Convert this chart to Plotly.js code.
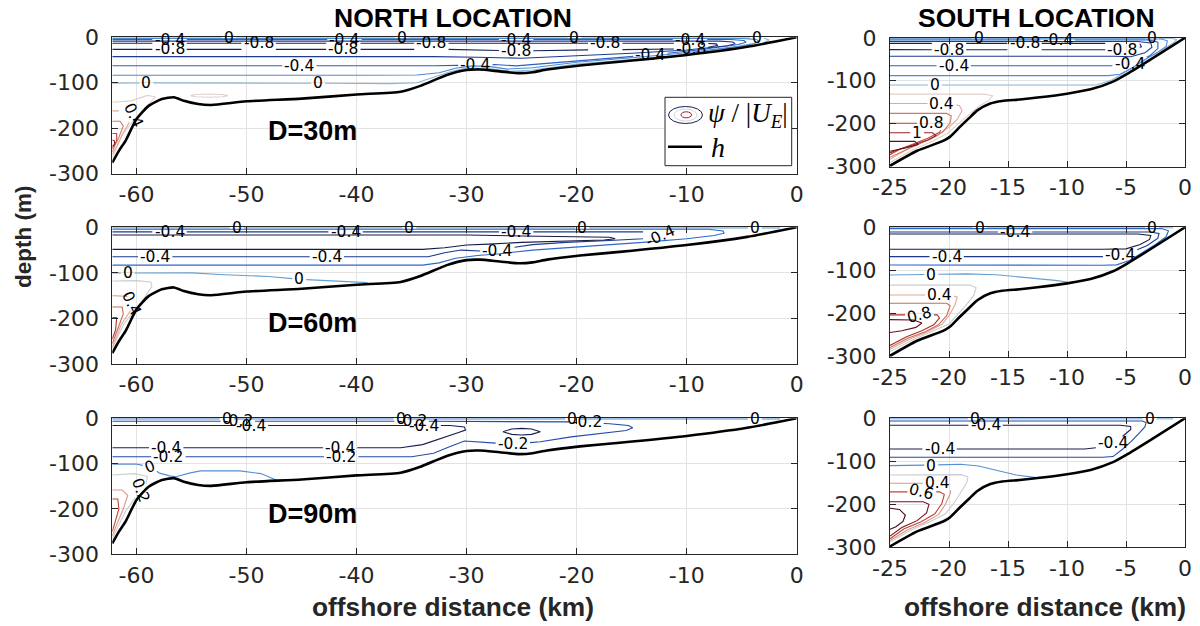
<!DOCTYPE html>
<html>
<head>
<meta charset="utf-8">
<script src="https://cdn.plot.ly/plotly-3.0.1.min.js"></script>
<style>
  html, body { margin: 0; padding: 0; background: #ffffff; }
  #chart { width: 1200px; height: 626px; }
</style>
</head>
<body>
<div id="chart"></div>
<script>
// ---------------- bathymetry h (offshore distance km, depth m) ----------------
const northX = [-62.2,-61.6,-61,-60,-58.9,-57.7,-56.6,-55.7,-54.4,-53.2,-50,-45,-40,-36,-34.2,-31.8,-30,-28.8,-27,-25.2,-24,-22.7,-19.7,-16.1,-10,-4.5,0];
const northH = [-276,-250,-228,-180,-151,-136,-132,-140,-147,-149,-141,-135,-126,-120,-107,-83,-72,-71,-75,-79,-77,-71,-62,-54,-39,-21,0];
const southX = [-25,-22.7,-20.5,-19.9,-19.1,-18.3,-17.6,-16.5,-15.5,-14,-12.5,-10,-8,-6.1,-4.9,-3,0];
const southH = [-298,-263,-240,-230,-208,-187,-169,-153,-147,-143.5,-139,-130,-120,-102,-84,-52,0];

// ---------------- streamfunction psi/|U_E| contour lines ----------------
// each entry: [level, x vertices (km), depth vertices (m)]
const n30Lines = [
  [0, [-62.2,-4.2,-2.9,-2.5,-2.9,-4,-6,-8,-10,-15,-20,-24,-26,-28,-30,-31.5,-33,-34.5,-37,-45,-55,-62.2],
      [-1.2,-1.2,-2.5,-6,-11,-17,-23,-30,-37.5,-49,-59,-72,-75,-69,-68,-76,-88,-100,-102,-101,-100,-101]],
  [-0.2, [-62.2,-5,-3.7,-3.4,-3.9,-5.3,-7.3,-10,-15,-20,-24,-26.3,-28,-29.5,-31,-32.5,-34.5,-40,-62.2],
         [-2.8,-2.8,-4.5,-9,-14,-20,-26,-34,-45,-55,-67,-70,-64,-63,-68,-78,-83,-83.5,-83.5]],
  [-0.4, [-62.2,-6,-4.8,-4.6,-5.3,-6.8,-9,-13.3,-18,-22,-25.5,-27.5,-29.2,-31,-33,-36,-62.2],
         [-5,-5,-7,-11,-16,-21,-28,-39,-48,-57,-63,-60,-61,-62,-62.5,-62.5,-62.5]],
  [-0.6, [-62.2,-7,-5.8,-5.6,-6.3,-7.8,-10,-15,-20,-25,-29,-31.5,-33,-62.2],
         [-8.5,-8.5,-10.5,-14,-18.5,-23,-28,-35,-40,-46,-44,-42.5,-42.5,-42.5]],
  [-0.8, [-62.2,-8.5,-7.3,-7.2,-7.8,-9,-10.5,-15,-20,-25,-29,-32,-62.2],
         [-13,-13,-14.5,-18,-21.5,-24,-25.5,-27,-28,-30,-28,-26.5,-26.5]],
  [0.2, [-62.2,-60.5,-59,-58.3,-58.8,-59.6,-60.5,-61.3,-61.9,-62.2],
        [-143,-140,-128,-131,-145,-165,-190,-214,-250,-265]],
  [0.2, [-55.1,-54.6,-53.4,-52.2,-51.7,-52.2,-53.4,-54.6,-55.1],
        [-128.5,-126,-125,-126,-128.5,-131,-132,-131,-128.5]],
  [0.4, [-62.2,-61,-60.4,-60.6,-61.2,-61.8,-62.2], [-162,-162,-168,-185,-210,-240,-258]],
  [0.6, [-62.2,-61.5,-61.2,-61.6,-62,-62.2], [-185,-185,-195,-220,-240,-252]],
  [0.8, [-62.2,-61.8,-61.8,-62.2], [-212,-212,-228,-245]],
  [1.0, [-62.2,-62.0,-62.0,-62.2], [-226,-228,-236,-240]]
];
const n60Lines = [
  [0, [-62.2,-1.5], [-1.2,-1.2]],
  [0, [-62.2,-57,-55,-52,-48,-45.2,-42,-39], [-100,-101,-100,-104,-108,-114,-118,-121.5]],
  [-0.2, [-62.2,-8,-6.7,-6.6,-7.5,-10,-14,-18,-21,-24,-27,-29,-31,-32.5,-34,-62.2],
         [-4.4,-4.4,-8,-13,-18,-25,-33,-40,-44,-50,-58,-62,-68,-78,-83,-83]],
  [-0.4, [-62.2,-13,-12,-12.3,-14,-17,-21,-24,-26,-27.5,-29,-30.5,-32,-33.5,-62.2],
         [-10,-10,-13,-19,-25,-29,-33,-38,-45,-53,-52,-50,-56,-64.7,-64.7]],
  [-0.6, [-62.2,-30,-25,-19,-17,-16.5,-17.5,-20,-25,-28,-30,-32,-34,-62.2],
         [-17,-17,-19,-21,-22,-25,-28,-29.5,-33,-37,-39,-45,-48.5,-48.5]],
  [0.2, [-62.2,-60,-58.7,-58.6,-59.3,-60.3,-61.2,-61.9,-62.2], [-118,-117,-120,-130,-155,-185,-214,-250,-266]],
  [0.4, [-62.2,-61,-60.3,-60.6,-61.4,-62,-62.2], [-150,-150,-156,-185,-214,-250,-262]],
  [0.6, [-62.2,-61.3,-61.2,-61.7,-62.2], [-175,-175,-190,-225,-255]],
  [0.8, [-62.2,-61.8,-61.9,-62.2], [-198,-198,-225,-245]]
];
const n90Lines = [
  [0, [-62.2,-1.5], [-1.2,-1.2]],
  [0, [-62.2,-60,-58.8,-57.9,-57,-56.4,-55.2,-54.2,-50.6,-48.7,-47.2],
      [-101,-101,-107,-121,-127,-129,-121,-116,-116,-122,-137]],
  [-0.2, [-62.2,-22,-19.4,-17,-15.3,-14.9,-15.5,-17.5,-20.5,-23.3,-25.8,-28.5,-30.2,-31.5,-33,-35,-62.2],
         [-6.5,-6.5,-9,-12,-16,-21,-27,-33,-41,-51.6,-57,-53,-50,-62,-77,-84.7,-84.7]],
  [-0.4, [-62.2,-31.5,-30.2,-30.1,-30.8,-32.3,-34,-36,-62.2], [-16,-16,-19,-26,-32,-45,-58,-65,-65]],
  [-0.4, [-26.7,-25.9,-25,-24.1,-23.3,-24.1,-25,-25.9,-26.7], [-29.5,-23.5,-22.3,-23.5,-29.5,-35.5,-36.7,-35.5,-29.5]],
  [0.2, [-62.2,-60.2,-59,-59.2,-60,-61,-61.8,-62.2], [-125,-122,-128,-150,-172,-205,-245,-266]],
  [0.4, [-62.2,-61.3,-60.8,-61.2,-61.9,-62.2], [-158,-158,-170,-200,-240,-260]],
  [0.6, [-62.2,-61.7,-61.6,-62,-62.2], [-178,-178,-200,-230,-250]]
];
const s30Lines = [
  [0, [-25,-1.2,-0.7,-1,-1.8,-3,-4.2,-5.2,-6.2,-7.5,-9,-25], [-1.2,-1.2,-4,-12,-26,-45,-66,-83,-98,-110,-110,-110]],
  [-0.2, [-25,-2,-1.5,-1.6,-2.4,-3.5,-4.5,-5.5,-6.5,-25], [-2.8,-2.8,-7,-20,-35,-52,-70,-85,-88,-88]],
  [-0.4, [-25,-3,-2.3,-2.3,-3,-4.2,-5.2,-7,-25], [-5,-5,-10,-25,-42,-58,-65,-65,-65]],
  [-0.6, [-25,-4,-2.9,-2.8,-3.4,-4.6,-6,-25], [-8.5,-8.5,-12,-22,-35,-44,-43,-43]],
  [-0.8, [-25,-5,-3.8,-3.7,-4.5,-6,-25], [-13,-13,-15,-21,-27,-28,-27.6]],
  [0.2, [-25,-17,-16.3,-16.6,-17.6,-18.6,-19.4,-20.1,-21.5,-23,-25], [-131,-131,-135,-145,-162,-185,-205,-222,-242,-260,-290]],
  [0.4, [-25,-19.7,-19.1,-18.9,-19.3,-20,-21,-22.4,-23.7,-25], [-153,-153,-158,-170,-190,-208,-228,-245,-262,-283]],
  [0.6, [-25,-20.2,-19.8,-19.9,-20.5,-21.5,-22.8,-24,-25], [-176,-176,-182,-198,-218,-235,-250,-265,-278]],
  [0.8, [-25,-20.8,-20.5,-20.8,-21.8,-23,-24.2,-25], [-199,-199,-205,-220,-234,-247,-260,-272]],
  [1.0, [-25,-21.4,-21.1,-21.8,-23,-24.3,-25], [-221,-221,-228,-238,-249,-260,-268]],
  [1.2, [-25,-22.9,-22.6,-23.6,-25], [-241,-241,-248,-256,-264]]
];
const s60Lines = [
  [0, [-25,-1], [-1.2,-1.2]],
  [0, [-25,-18.5,-16,-13,-11,-10], [-110.6,-108,-110,-117,-123,-127]],
  [-0.2, [-25,-2,-1.4,-1.6,-2.5,-3.6,-4.7,-5.8,-7,-25], [-3,-3,-8,-22,-40,-58,-77,-87,-88,-87.4]],
  [-0.4, [-25,-3,-2.2,-2.3,-3.2,-4.3,-5.2,-6.5,-25], [-11,-11,-14,-25,-42,-55,-63,-68,-68]],
  [-0.6, [-25,-4,-2.9,-3,-3.8,-5,-7,-25], [-15.5,-15.5,-19,-28,-40,-50,-51,-51]],
  [0.2, [-25,-18.2,-17.7,-17.9,-18.6,-19.3,-20,-21.5,-23,-25], [-134,-134,-140,-158,-182,-204,-224,-242,-260,-288]],
  [0.4, [-25,-19.8,-19.3,-19.5,-20,-20.6,-21.8,-23.3,-25], [-157,-157,-162,-180,-205,-225,-242,-259,-283]],
  [0.6, [-25,-20.2,-19.9,-20.2,-20.9,-22,-23.5,-25], [-176,-176,-182,-205,-226,-242,-257,-279]],
  [0.8, [-25,-21,-20.8,-21.3,-22.3,-23.6,-25], [-203,-203,-210,-226,-240,-254,-274]],
  [1.0, [-25,-23,-22.3,-22.8,-24,-25], [-214,-215,-222,-232,-240,-244]]
];
const s90Lines = [
  [0, [-25,-1], [-1.2,-1.2]],
  [0, [-25,-20,-19,-17.5,-16.2,-14.3,-12.6], [-110,-108,-107,-111,-119,-132,-138]],
  [-0.2, [-25,-3.6,-3.3,-3.4,-3.9,-4.6,-5.3,-6.1,-7,-25], [-6.3,-6.3,-10,-20,-35,-55,-72,-89,-90.7,-90.7]],
  [-0.4, [-25,-5.5,-4.6,-4.6,-5.2,-6,-7,-8.5,-25], [-16,-16,-19,-26,-40,-55,-67,-71.4,-71.4]],
  [0.2, [-25,-19,-18.4,-18.5,-19,-19.6,-20.3,-21.7,-23.2,-25], [-132,-131,-136,-150,-172,-198,-222,-242,-260,-288]],
  [0.4, [-25,-20.3,-19.8,-19.9,-20.3,-20.9,-22.1,-23.5,-25], [-151,-151,-156,-175,-200,-224,-243,-259,-284]],
  [0.6, [-25,-20.8,-20.4,-20.6,-21.2,-22.4,-23.8,-25], [-171,-171,-177,-198,-222,-241,-257,-280]],
  [0.8, [-25,-22.2,-21.7,-21.9,-22.7,-24,-25], [-194,-194,-200,-220,-238,-254,-274]],
  [1.0, [-25,-24.2,-23.7,-23.9,-24.5,-25], [-209,-212,-225,-240,-252,-258]]
];

// contour labels: [level, x (km), depth (m), rotation (deg)]
const n30Labels = [
  [-0.4,-57,-5], [-0.8,-57,-26.5], [0,-51.6,-1.2], [-0.8,-48.9,-13], [-0.4,-45.2,-62.5],
  [0,-59.1,-101], [0,-43.5,-101], [-0.4,-41.1,-5], [-0.8,-41.2,-26.5], [0,-35.9,-1.2],
  [-0.8,-33.2,-13], [-0.4,-29.2,-61], [-0.4,-25.5,-5], [-0.8,-25.5,-30], [0,-20.2,-1.2],
  [-0.8,-17.4,-13], [-0.4,-13.3,-40], [-0.4,-9.7,-5], [-0.8,-9.6,-25.5], [0,-3.6,-1.5],
  [0.4,-60.3,-172,65]
];
const n60Labels = [
  [-0.4,-57,-10], [0,-50.9,-1.2], [-0.4,-41,-10], [0,-35.2,-1.2], [-0.4,-25.5,-10],
  [0,-19.5,-1.2], [-0.4,-58.3,-64.7], [-0.4,-42.7,-64.7], [-0.4,-27.2,-53], [-0.4,-12.4,-18,-25],
  [0,-60.8,-100], [0,-45.2,-114], [0,-3.8,-1.2], [0.4,-60.5,-167,65]
];
const n90Labels = [
  [0,-51.8,-1.2], [-0.2,-50.8,-6.5], [-0.4,-49.6,-16], [0,-36,-1.2], [-0.2,-35,-6.5], [-0.4,-33.9,-16],
  [-0.4,-57.3,-65], [-0.2,-57.1,-84.7], [-0.4,-41.5,-65], [-0.2,-41.4,-84.7], [0,-58.8,-107,-20],
  [0.2,-59.6,-160,70], [-0.2,-25.8,-57], [-0.2,-19.1,-9], [0,-20.4,-1.2], [0,-3.8,-1.2]
];
const s30Labels = [
  [0,-17.5,-1.2], [-0.8,-13.6,-13], [-0.4,-10.8,-5], [-0.8,-20,-27.6], [-0.4,-19.6,-65],
  [0,-21.2,-110], [0.4,-20.6,-153], [0.8,-21.5,-199], [1,-22.7,-221], [-0.8,-5.3,-28],
  [-0.4,-4.7,-60], [0,-2.8,-1.2]
];
const s60Labels = [
  [0,-17.4,-1.2], [-0.4,-14.4,-11], [0,-2.8,-1.2], [-0.4,-20.2,-68], [-0.4,-5.5,-64],
  [0,-21.5,-110.6], [0.4,-20.8,-157], [0.8,-22.5,-203,-15]
];
const s90Labels = [
  [0,-17.8,-1.2], [-0.4,-16.9,-16], [0,-3,-1.2], [-0.4,-20.8,-71.4], [-0.4,-6.1,-58],
  [0,-21.5,-110], [0.4,-21,-151], [0.6,-22.3,-171,15]
];

// axis ticks
const northTicks = [-60,-50,-40,-30,-20,-10,0];
const southTicks = [-25,-20,-15,-10,-5,0];
const depthTicks = [-300,-200,-100,0];

// ---------------- drawing ----------------
const W = 1200, H = 626;
const TICK_FONT = 'DejaVu Sans';
const BOLD_FONT = 'Liberation Sans, Arial, sans-serif';
const LABEL_SIZE = 15.5;

// diverging colormap (dark navy -> blue -> pale -> red -> maroon)
const cmap = [
  [0.00,[20,20,40]],[0.10,[25,35,95]],[0.18,[30,60,150]],[0.27,[40,100,205]],
  [0.38,[95,155,210]],[0.47,[165,200,215]],[0.52,[225,210,205]],[0.60,[225,175,160]],
  [0.70,[210,120,95]],[0.80,[185,60,50]],[0.90,[140,20,35]],[1.00,[65,5,20]]
];
function levelColor(v, lo, hi) {
  let t = (v - lo) / (hi - lo);
  t = Math.max(0, Math.min(1, t));
  for (let i = 0; i < cmap.length - 1; i++) {
    const [t0, c0] = cmap[i], [t1, c1] = cmap[i + 1];
    if (t <= t1) {
      const f = (t - t0) / (t1 - t0);
      const c = c0.map((a, k) => Math.round(a + f * (c1[k] - a)));
      return `rgb(${c[0]},${c[1]},${c[2]})`;
    }
  }
  return 'rgb(65,5,20)';
}
const fmt = v => String(v);
function textWidth(s, fs) {
  let w = 0;
  for (const ch of s) w += ch === '-' ? 0.36 : (ch === '.' ? 0.32 : 0.64);
  return w * fs;
}
// Liang-Barsky: parameter interval of a segment inside a box
function clipT(x0, y0, x1, y1, b) {
  const dx = x1 - x0, dy = y1 - y0;
  const p = [-dx, dx, -dy, dy];
  const q = [x0 - b.x0, b.x1 - x0, y0 - b.y0, b.y1 - y0];
  let t0 = 0, t1 = 1;
  for (let k = 0; k < 4; k++) {
    if (p[k] === 0) { if (q[k] < 0) return null; }
    else {
      const r = q[k] / p[k];
      if (p[k] < 0) t0 = Math.max(t0, r); else t1 = Math.min(t1, r);
    }
  }
  return t0 < t1 ? [t0, t1] : null;
}
// break a polyline where its own labels sit
function breakAtLabels(xs, ys, boxes) {
  const ox = [], oy = [];
  let prevEnd = false;
  for (let i = 0; i < xs.length - 1; i++) {
    let pieces = [[0, 1]];
    for (const b of boxes) {
      const r = clipT(xs[i], ys[i], xs[i + 1], ys[i + 1], b);
      if (!r) continue;
      const next = [];
      for (const [a, c] of pieces) {
        if (a < Math.min(c, r[0])) next.push([a, Math.min(c, r[0])]);
        if (Math.max(a, r[1]) < c) next.push([Math.max(a, r[1]), c]);
      }
      pieces = next;
    }
    let endsAtOne = false;
    for (const [a, c] of pieces) {
      const pa = [xs[i] + a * (xs[i + 1] - xs[i]), ys[i] + a * (ys[i + 1] - ys[i])];
      const pc = [xs[i] + c * (xs[i + 1] - xs[i]), ys[i] + c * (ys[i + 1] - ys[i])];
      if (!(a === 0 && prevEnd)) {
        if (ox.length) { ox.push(null); oy.push(null); }
        ox.push(pa[0]); oy.push(pa[1]);
      }
      ox.push(pc[0]); oy.push(pc[1]);
      if (c === 1) endsAtOne = true;
    }
    prevEnd = endsAtOne;
  }
  return [ox, oy];
}

const px = v => v / W, py = v => 1 - v / H;
const panels = [
  { lines: n30Lines, labels: n30Labels, hx: northX, hd: northH, xr: [-62.2, 0], ticks: northTicks, xd: [112.3, 796.7], yd: [37.3, 173.5], lo: -1.0, hi: 1.3 },
  { lines: n60Lines, labels: n60Labels, hx: northX, hd: northH, xr: [-62.2, 0], ticks: northTicks, xd: [112.3, 796.7], yd: [227.3, 364], lo: -0.7, hi: 1.1 },
  { lines: n90Lines, labels: n90Labels, hx: northX, hd: northH, xr: [-62.2, 0], ticks: northTicks, xd: [112.3, 796.7], yd: [418.3, 554.3], lo: -0.5, hi: 0.9 },
  { lines: s30Lines, labels: s30Labels, hx: southX, hd: southH, xr: [-25, 0], ticks: southTicks, xd: [890, 1185], yd: [37.8, 166.7], lo: -1.0, hi: 1.3 },
  { lines: s60Lines, labels: s60Labels, hx: southX, hd: southH, xr: [-25, 0], ticks: southTicks, xd: [890, 1185], yd: [227.3, 356.7], lo: -0.7, hi: 1.1 },
  { lines: s90Lines, labels: s90Labels, hx: southX, hd: southH, xr: [-25, 0], ticks: southTicks, xd: [890, 1185], yd: [418.3, 547.3], lo: -0.5, hi: 0.9 }
];

const traces = [];
const annotations = [];
const layout = {
  width: W, height: H, autosize: false,
  margin: { l: 0, r: 0, t: 0, b: 0 },
  paper_bgcolor: '#ffffff', plot_bgcolor: '#ffffff',
  showlegend: false,
  font: { family: TICK_FONT, color: '#262626' },
  annotations: annotations,
  shapes: []
};

panels.forEach((p, i) => {
  const n = i === 0 ? '' : String(i + 1);
  const xa = 'x' + n, ya = 'y' + n;
  const axisCommon = {
    showline: true, mirror: 'ticks', linecolor: '#262626', linewidth: 1,
    ticks: 'inside', ticklen: 6, tickwidth: 1, tickcolor: '#262626',
    showgrid: true, gridcolor: '#e3e3e3', gridwidth: 1, zeroline: false,
    tickfont: { family: TICK_FONT, size: 22, color: '#262626' },
    fixedrange: true
  };
  layout['xaxis' + n] = Object.assign({}, axisCommon, {
    domain: [px(p.xd[0]), px(p.xd[1])], range: p.xr, anchor: ya,
    tickmode: 'array', tickvals: p.ticks, ticktext: p.ticks.map(String),
    ticklabelstandoff: 1
  });
  layout['yaxis' + n] = Object.assign({}, axisCommon, {
    domain: [py(p.yd[1]), py(p.yd[0])], range: [-300, 0], anchor: xa,
    tickmode: 'array', tickvals: depthTicks, ticktext: depthTicks.map(String),
    ticklabelstandoff: 8
  });

  const sx = (p.xd[1] - p.xd[0]) / (p.xr[1] - p.xr[0]);   // px per km
  const sy = (p.yd[1] - p.yd[0]) / 300;                   // px per m

  p.lines.forEach(([lev, xs, ds]) => {
    const boxes = p.labels.filter(l => l[0] === lev).map(l => {
      const hw = (textWidth(fmt(l[0]), LABEL_SIZE) / 2 + 2) / sx;
      const hh = 7 / sy;
      return { x0: l[1] - hw, x1: l[1] + hw, y0: l[2] - hh, y1: l[2] + hh };
    });
    const [cx, cy] = breakAtLabels(xs, ds, boxes);
    traces.push({
      type: 'scatter', mode: 'lines', x: cx, y: cy, xaxis: xa, yaxis: ya,
      line: { color: levelColor(lev, p.lo, p.hi), width: 1.1 },
      hoverinfo: 'skip', connectgaps: false
    });
  });

  traces.push({
    type: 'scatter', mode: 'lines', x: p.hx, y: p.hd, xaxis: xa, yaxis: ya,
    line: { color: '#000000', width: 2.6, shape: 'spline', smoothing: 0.6 },
    hoverinfo: 'skip'
  });

  p.labels.forEach(l => {
    annotations.push({
      xref: xa, yref: ya, x: l[1], y: l[2], text: fmt(l[0]), showarrow: false,
      textangle: l[3] || 0, xanchor: 'center', yanchor: 'middle',
      font: { family: TICK_FONT, size: LABEL_SIZE, color: '#000000' }
    });
  });
});

// figure texts
const bold = (t, x, y, size, color, extra) => Object.assign({
  xref: 'paper', yref: 'paper', x: px(x), y: py(y), text: '<b>' + t + '</b>',
  showarrow: false, xanchor: 'center', yanchor: 'middle',
  font: { family: BOLD_FONT, size: size, color: color }
}, extra || {});
annotations.push(bold('NORTH LOCATION', 453, 18, 26.5, '#000000'));
annotations.push(bold('SOUTH LOCATION', 1036, 18, 26.5, '#000000'));
annotations.push(bold('D=30m', 312, 131, 27, '#000000'));
annotations.push(bold('D=60m', 312, 322.5, 27, '#000000'));
annotations.push(bold('D=90m', 313, 514, 27, '#000000'));
annotations.push(bold('offshore distance (km)', 453, 607, 26.3, '#262626'));
annotations.push(bold('offshore distance (km)', 1045, 607, 26.3, '#262626'));
annotations.push(bold('depth (m)', 23, 237, 22.5, '#262626', { textangle: -90 }));

// legend box
layout.shapes.push(
  { type: 'rect', xref: 'paper', yref: 'paper', x0: px(665), x1: px(791.7), y0: py(165.7), y1: py(97.3),
    line: { color: '#262626', width: 1 }, fillcolor: '#ffffff', layer: 'above' },
  { type: 'circle', xref: 'paper', yref: 'paper', x0: px(668.5), x1: px(702.5), y0: py(123.5), y1: py(106.5),
    line: { color: levelColor(-0.8, -1, 1.3), width: 1 }, layer: 'above' },
  { type: 'circle', xref: 'paper', yref: 'paper', x0: px(674), x1: px(697), y0: py(121), y1: py(109),
    line: { color: '#d6d6d6', width: 1 }, layer: 'above' },
  { type: 'circle', xref: 'paper', yref: 'paper', x0: px(681), x1: px(691.5), y0: py(117.8), y1: py(111.8),
    line: { color: levelColor(1.0, -1, 1.3), width: 1 }, layer: 'above' },
  { type: 'line', xref: 'paper', yref: 'paper', x0: px(668), x1: px(702), y0: py(146.7), y1: py(146.7),
    line: { color: '#000000', width: 2.6 }, layer: 'above' }
);
annotations.push({
  xref: 'paper', yref: 'paper', x: px(706), y: py(115), xanchor: 'left', yanchor: 'middle', showarrow: false,
  text: '<i>ψ</i> / |<i>U</i><sub><i>E</i></sub>|',
  font: { family: 'Liberation Serif, DejaVu Serif, serif', size: 27, color: '#000000' }
});
annotations.push({
  xref: 'paper', yref: 'paper', x: px(709), y: py(147), xanchor: 'left', yanchor: 'middle', showarrow: false,
  text: '<i>h</i>',
  font: { family: 'Liberation Serif, DejaVu Serif, serif', size: 28, color: '#000000' }
});

Plotly.newPlot('chart', traces, layout, { displayModeBar: false, staticPlot: true });
</script>
</body>
</html>
